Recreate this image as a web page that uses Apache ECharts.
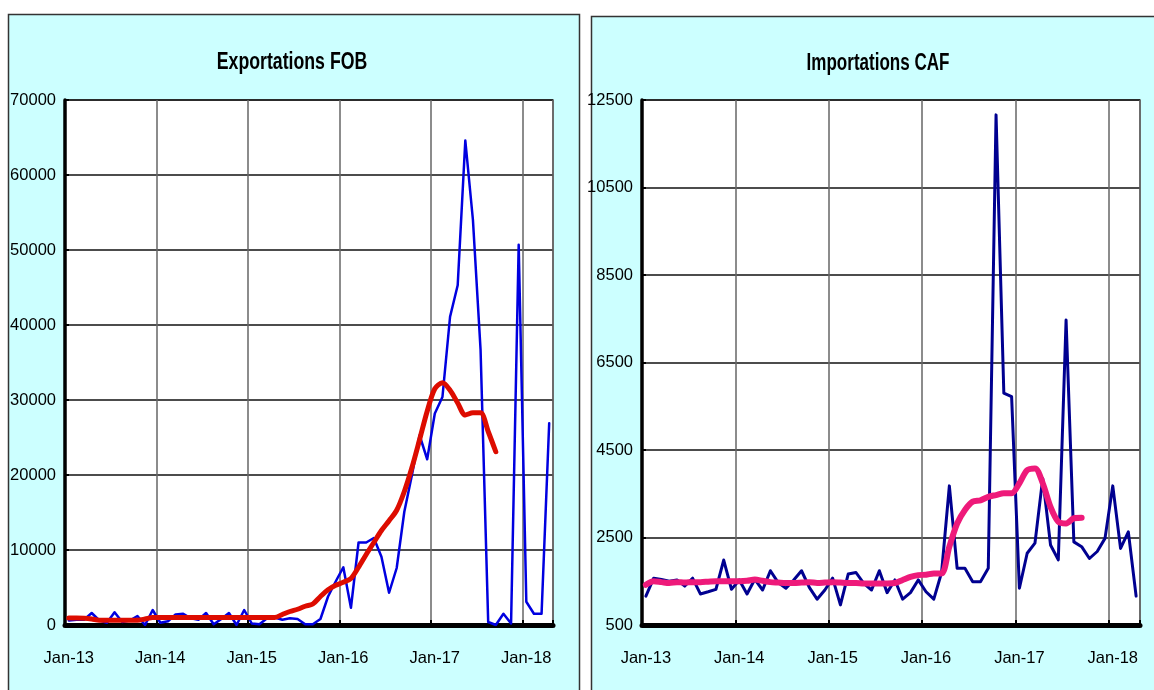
<!DOCTYPE html>
<html>
<head>
<meta charset="utf-8">
<script src="https://cdn.jsdelivr.net/npm/echarts@6/dist/echarts.min.js"></script>
<style>
html,body{margin:0;padding:0;background:#fff;}
#c{width:1154px;height:690px;}
</style>
</head>
<body>
<div id="c"></div>
<script>
const months = [
 "Jan-13","Feb-13","Mar-13","Apr-13","May-13","Jun-13","Jul-13","Aug-13","Sep-13","Oct-13","Nov-13","Dec-13",
 "Jan-14","Feb-14","Mar-14","Apr-14","May-14","Jun-14","Jul-14","Aug-14","Sep-14","Oct-14","Nov-14","Dec-14",
 "Jan-15","Feb-15","Mar-15","Apr-15","May-15","Jun-15","Jul-15","Aug-15","Sep-15","Oct-15","Nov-15","Dec-15",
 "Jan-16","Feb-16","Mar-16","Apr-16","May-16","Jun-16","Jul-16","Aug-16","Sep-16","Oct-16","Nov-16","Dec-16",
 "Jan-17","Feb-17","Mar-17","Apr-17","May-17","Jun-17","Jul-17","Aug-17","Sep-17","Oct-17","Nov-17","Dec-17",
 "Jan-18","Feb-18","Mar-18","Apr-18"
];

// Exportations FOB (monthly) and trend
const expMonthly = [
 600,700,700,1600,600,300,1700,400,600,1200,0,2000,
 300,500,1400,1500,900,700,1600,100,800,1600,0,2000,
 200,100,900,1000,700,900,800,100,100,800,3800,5800,
 7700,2300,11000,11000,11600,9100,4300,7600,15100,20000,25300,22100,
 28200,30400,41100,45300,64600,54000,36700,400,0,1500,200,50700,
 3100,1500,1500,26900
];
const expTrend = [
 950,950,900,800,650,650,650,650,650,650,800,1000,
 1000,1000,1000,1000,1000,1000,1000,1000,1000,1000,1000,1000,
 1000,1000,1000,1000,1400,1800,2100,2500,2800,3800,4700,5300,
 5700,6200,7700,9400,11000,12600,13900,15300,17800,21000,24700,28500,
 31500,32300,31300,29600,28000,28300,28300,25800,23100
];

// Importations CAF (monthly) and trend
const impMonthly = [
 1160,1570,1540,1500,1530,1390,1570,1210,1260,1315,1985,1315,
 1530,1210,1545,1300,1740,1470,1340,1530,1740,1360,1090,1300,
 1570,960,1665,1700,1450,1300,1740,1240,1530,1090,1240,1530,
 1260,1090,1700,3680,1795,1795,1490,1490,1795,12160,5800,5720,
 1340,2140,2370,3850,2330,1990,7470,2400,2290,2020,2180,2480,
 3680,2250,2630,1160
];
const impTrend = [
 1420,1500,1480,1460,1480,1470,1480,1480,1490,1500,1500,1500,
 1500,1510,1540,1510,1480,1470,1460,1460,1470,1480,1460,1470,
 1480,1470,1460,1460,1450,1450,1450,1450,1460,1530,1600,1640,
 1650,1680,1680,2290,2820,3130,3320,3350,3430,3470,3510,3510,
 3740,4040,4080,3740,3200,2860,2820,2940,2950
];

const expTicks = [0,10000,20000,30000,40000,50000,60000,70000];
const impTicks = [500,2500,4500,6500,8500,10500,12500];

const FONT = '"Liberation Sans","Arial",sans-serif';

function xAxisCfg(gi){
  return {
    type:'category', gridIndex:gi, data:months, boundaryGap:true,
    axisLine:{show:true, lineStyle:{color:'#000', width:5}},
    axisTick:{show:true, inside:true, interval:11, length:5, lineStyle:{color:'#000', width:2}},
    axisLabel:{show:true, interval:11, color:'#000', fontFamily:FONT, fontSize:16.5, margin:25},
    splitLine:{show:true, interval:11, lineStyle:{color:'#666', width:1.5}}
  };
}
function yAxisCfg(gi, ticks){
  return {
    type:'value', gridIndex:gi, min:ticks[0], max:ticks[ticks.length-1],
    interval:ticks[1]-ticks[0],
    axisLine:{show:true, lineStyle:{color:'#000', width:3.5}},
    axisTick:{show:true, inside:true, length:4, lineStyle:{color:'#000', width:2}},
    axisLabel:{color:'#000', fontFamily:FONT, fontSize:16.5, margin:9, formatter:function(v){return String(v);}},
    splitLine:{show:true, lineStyle:{color:'#111', width:1.5}}
  };
}

const chart = echarts.init(document.getElementById('c'), null, {renderer:'canvas'});
chart.setOption({
  animation:false,
  backgroundColor:'#fff',
  graphic:[
    {type:'rect', z:-10, shape:{x:8.5, y:14.5, width:571, height:700}, style:{fill:'#ccffff', stroke:'#333', lineWidth:1.5}},
    {type:'rect', z:-10, shape:{x:591.5, y:16.5, width:600, height:700}, style:{fill:'#ccffff', stroke:'#333', lineWidth:1.5}},
    {type:'text', x:292, y:63, scaleX:0.77, z:10,
     style:{text:'Exportations FOB', font:'bold 23px "Liberation Sans", Arial, sans-serif', fill:'#000', textAlign:'center', textVerticalAlign:'middle'}},
    {type:'text', x:878, y:64, scaleX:0.74, z:10,
     style:{text:'Importations CAF', font:'bold 23px "Liberation Sans", Arial, sans-serif', fill:'#000', textAlign:'center', textVerticalAlign:'middle'}}
  ],
  grid:[
    {left:65, top:100, width:488, height:525, show:true, backgroundColor:'#fff', borderColor:'#555', borderWidth:1.5},
    {left:642, top:100, width:498, height:525, show:true, backgroundColor:'#fff', borderColor:'#555', borderWidth:1.5}
  ],
  xAxis:[xAxisCfg(0), xAxisCfg(1)],
  yAxis:[yAxisCfg(0, expTicks), yAxisCfg(1, impTicks)],
  series:[
    {type:'line', xAxisIndex:0, yAxisIndex:0, data:expMonthly, showSymbol:false, symbol:'none',
     lineStyle:{color:'#0000e0', width:2.5, cap:'round', join:'round'}, z:2},
    {type:'line', xAxisIndex:0, yAxisIndex:0, data:expTrend, showSymbol:false, symbol:'none', smooth:0.3,
     lineStyle:{color:'#dd0c00', width:5, cap:'round', join:'round'}, z:3},
    {type:'line', xAxisIndex:1, yAxisIndex:1, data:impMonthly, showSymbol:false, symbol:'none',
     lineStyle:{color:'#000090', width:3, cap:'round', join:'round'}, z:2},
    {type:'line', xAxisIndex:1, yAxisIndex:1, data:impTrend, showSymbol:false, symbol:'none', smooth:0.3,
     lineStyle:{color:'#ee1a7a', width:6, cap:'round', join:'round'}, z:3}
  ]
});
</script>
</body>
</html>
